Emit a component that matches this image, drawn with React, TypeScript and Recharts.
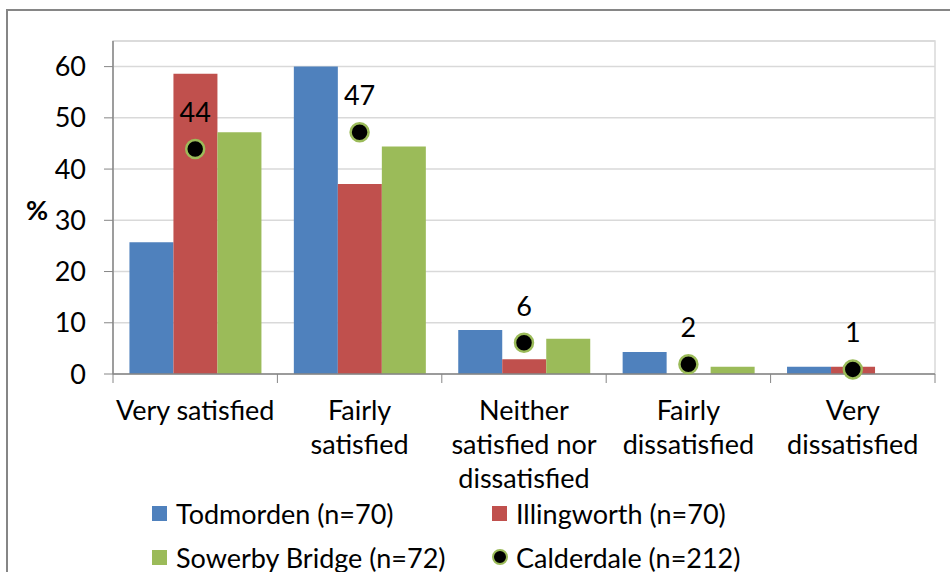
import {
  ComposedChart,
  Bar,
  Line,
  LabelList,
  XAxis,
  YAxis,
  CartesianGrid,
  ReferenceArea,
} from "recharts";

const categories = [
  "Very satisfied",
  "Fairly\nsatisfied",
  "Neither\nsatisfied nor\ndissatisfied",
  "Fairly\ndissatisfied",
  "Very\ndissatisfied",
];
const todmorden = [25.7, 60.0, 8.6, 4.3, 1.4];
const illingworth = [58.6, 37.1, 2.9, 0, 1.4];
const sowerbyBridge = [47.2, 44.4, 6.9, 1.4, 0];
const calderdale = [43.9, 47.2, 6.1, 1.9, 0.9];
const yTicks = [0, 10, 20, 30, 40, 50, 60];

const seriesNames = {
  todmorden: "Todmorden (n=70)",
  illingworth: "Illingworth (n=70)",
  sowerbyBridge: "Sowerby Bridge (n=72)",
  calderdale: "Calderdale (n=212)",
};

const BLUE = "#4f81bd";
const RED = "#c0504d";
const GREEN = "#9bbb59";
const AXIS = "#868686";
const GRID = "#d9d9d9";
const FONT = "Lato, 'Open Sans', sans-serif";
const FS = 27;

const W = 950;
const H = 572;
const PLOT_LEFT = 113;
const PLOT_RIGHT = 935;
const PLOT_TOP = 41;
const AXIS_Y = 374;
const BAND = (PLOT_RIGHT - PLOT_LEFT) / categories.length;

const data = categories.map((name, i) => ({
  name,
  todmorden: todmorden[i],
  illingworth: illingworth[i],
  sowerbyBridge: sowerbyBridge[i],
  calderdale: calderdale[i],
}));

// x ticks sit on the category boundaries, labels are wrapped by hand
function CategoryTick(props: any) {
  const { x, y, payload, index } = props;
  const lines = String(payload.value).split("\n");
  const half = BAND / 2;
  return (
    <g>
      <line x1={x - half} x2={x - half} y1={y} y2={y + 9} stroke={AXIS} />
      {index === categories.length - 1 && (
        <line x1={x + half} x2={x + half} y1={y} y2={y + 9} stroke={AXIS} />
      )}
      <text textAnchor="middle" fontSize={FS} fill="#000">
        {lines.map((l, i) => (
          <tspan key={i} x={x} y={y + 46 + i * 34}>
            {l}
          </tspan>
        ))}
      </text>
    </g>
  );
}

function PointLabel(props: any) {
  const { x, y, value } = props;
  return (
    <text x={x} y={y - 27} textAnchor="middle" fontSize={FS} fill="#000">
      {Math.round(value)}
    </text>
  );
}

function LegendItem({ label, marker }: { label: string; marker: React.ReactNode }) {
  return (
    <div style={{ display: "flex", alignItems: "center", height: 34 }}>
      <div style={{ width: 24, display: "flex", alignItems: "center" }}>{marker}</div>
      <span>{label}</span>
    </div>
  );
}

const square = (c: string) => (
  <div style={{ width: 15, height: 15, background: c }} />
);
const dotMarker = (
  <div
    style={{
      width: 12,
      height: 12,
      borderRadius: "50%",
      background: "#000",
      border: `2px solid ${GREEN}`,
    }}
  />
);

export default function App() {
  return (
    <div
      style={{
        position: "fixed",
        left: 0,
        top: 0,
        width: W,
        height: H,
        background: "#fff",
        fontFamily: FONT,
        overflow: "hidden",
      }}
    >
      <div
        style={{
          position: "absolute",
          left: 6,
          top: 9,
          width: W,
          height: H,
          borderLeft: `2px solid ${AXIS}`,
          borderTop: `2px solid ${AXIS}`,
        }}
      />
      <div style={{ position: "absolute", left: 0, top: 0 }}>
        <ComposedChart
          width={W}
          height={H}
          data={data}
          margin={{ top: PLOT_TOP, right: W - PLOT_RIGHT, left: 0, bottom: 0 }}
          barCategoryGap="10%"
          barGap={0}
        >
          <ReferenceArea y1={0} y2={65} fill="none" stroke={GRID} strokeWidth={1.5} />
          <CartesianGrid vertical={false} stroke={GRID} strokeWidth={1.5} />
          <XAxis
            dataKey="name"
            height={H - AXIS_Y}
            interval={0}
            tickLine={false}
            tickSize={0}
            tickMargin={0}
            axisLine={{ stroke: AXIS, strokeWidth: 1.5 }}
            tick={<CategoryTick />}
          />
          <YAxis
            width={PLOT_LEFT}
            domain={[0, 65]}
            ticks={yTicks}
            tickSize={9}
            tickMargin={18}
            tickLine={{ stroke: AXIS }}
            axisLine={{ stroke: AXIS, strokeWidth: 1.5 }}
            tick={{ fontSize: FS, fill: "#000" }}
            label={{
              content: () => (
                <text x={37} y={220} textAnchor="middle" fontSize={FS} fontWeight="bold" fill="#000">
                  %
                </text>
              ),
            }}
          />
          <Bar dataKey="todmorden" name={seriesNames.todmorden} fill={BLUE} isAnimationActive={false} />
          <Bar dataKey="illingworth" name={seriesNames.illingworth} fill={RED} isAnimationActive={false} />
          <Bar dataKey="sowerbyBridge" name={seriesNames.sowerbyBridge} fill={GREEN} isAnimationActive={false} />
          <Line
            dataKey="calderdale"
            name={seriesNames.calderdale}
            stroke="none"
            dot={{ r: 9, fill: "#000", stroke: GREEN, strokeWidth: 2.5 }}
            activeDot={false}
            isAnimationActive={false}
          >
            <LabelList dataKey="calderdale" content={<PointLabel />} />
          </Line>
        </ComposedChart>
      </div>
      <div
        style={{
          position: "absolute",
          left: 152,
          top: 496,
          fontSize: FS,
          color: "#000",
          display: "grid",
          gridTemplateColumns: "340px auto",
          rowGap: 10,
        }}
      >
        <LegendItem label={seriesNames.todmorden} marker={square(BLUE)} />
        <LegendItem label={seriesNames.illingworth} marker={square(RED)} />
        <LegendItem label={seriesNames.sowerbyBridge} marker={square(GREEN)} />
        <LegendItem label={seriesNames.calderdale} marker={dotMarker} />
      </div>
    </div>
  );
}
